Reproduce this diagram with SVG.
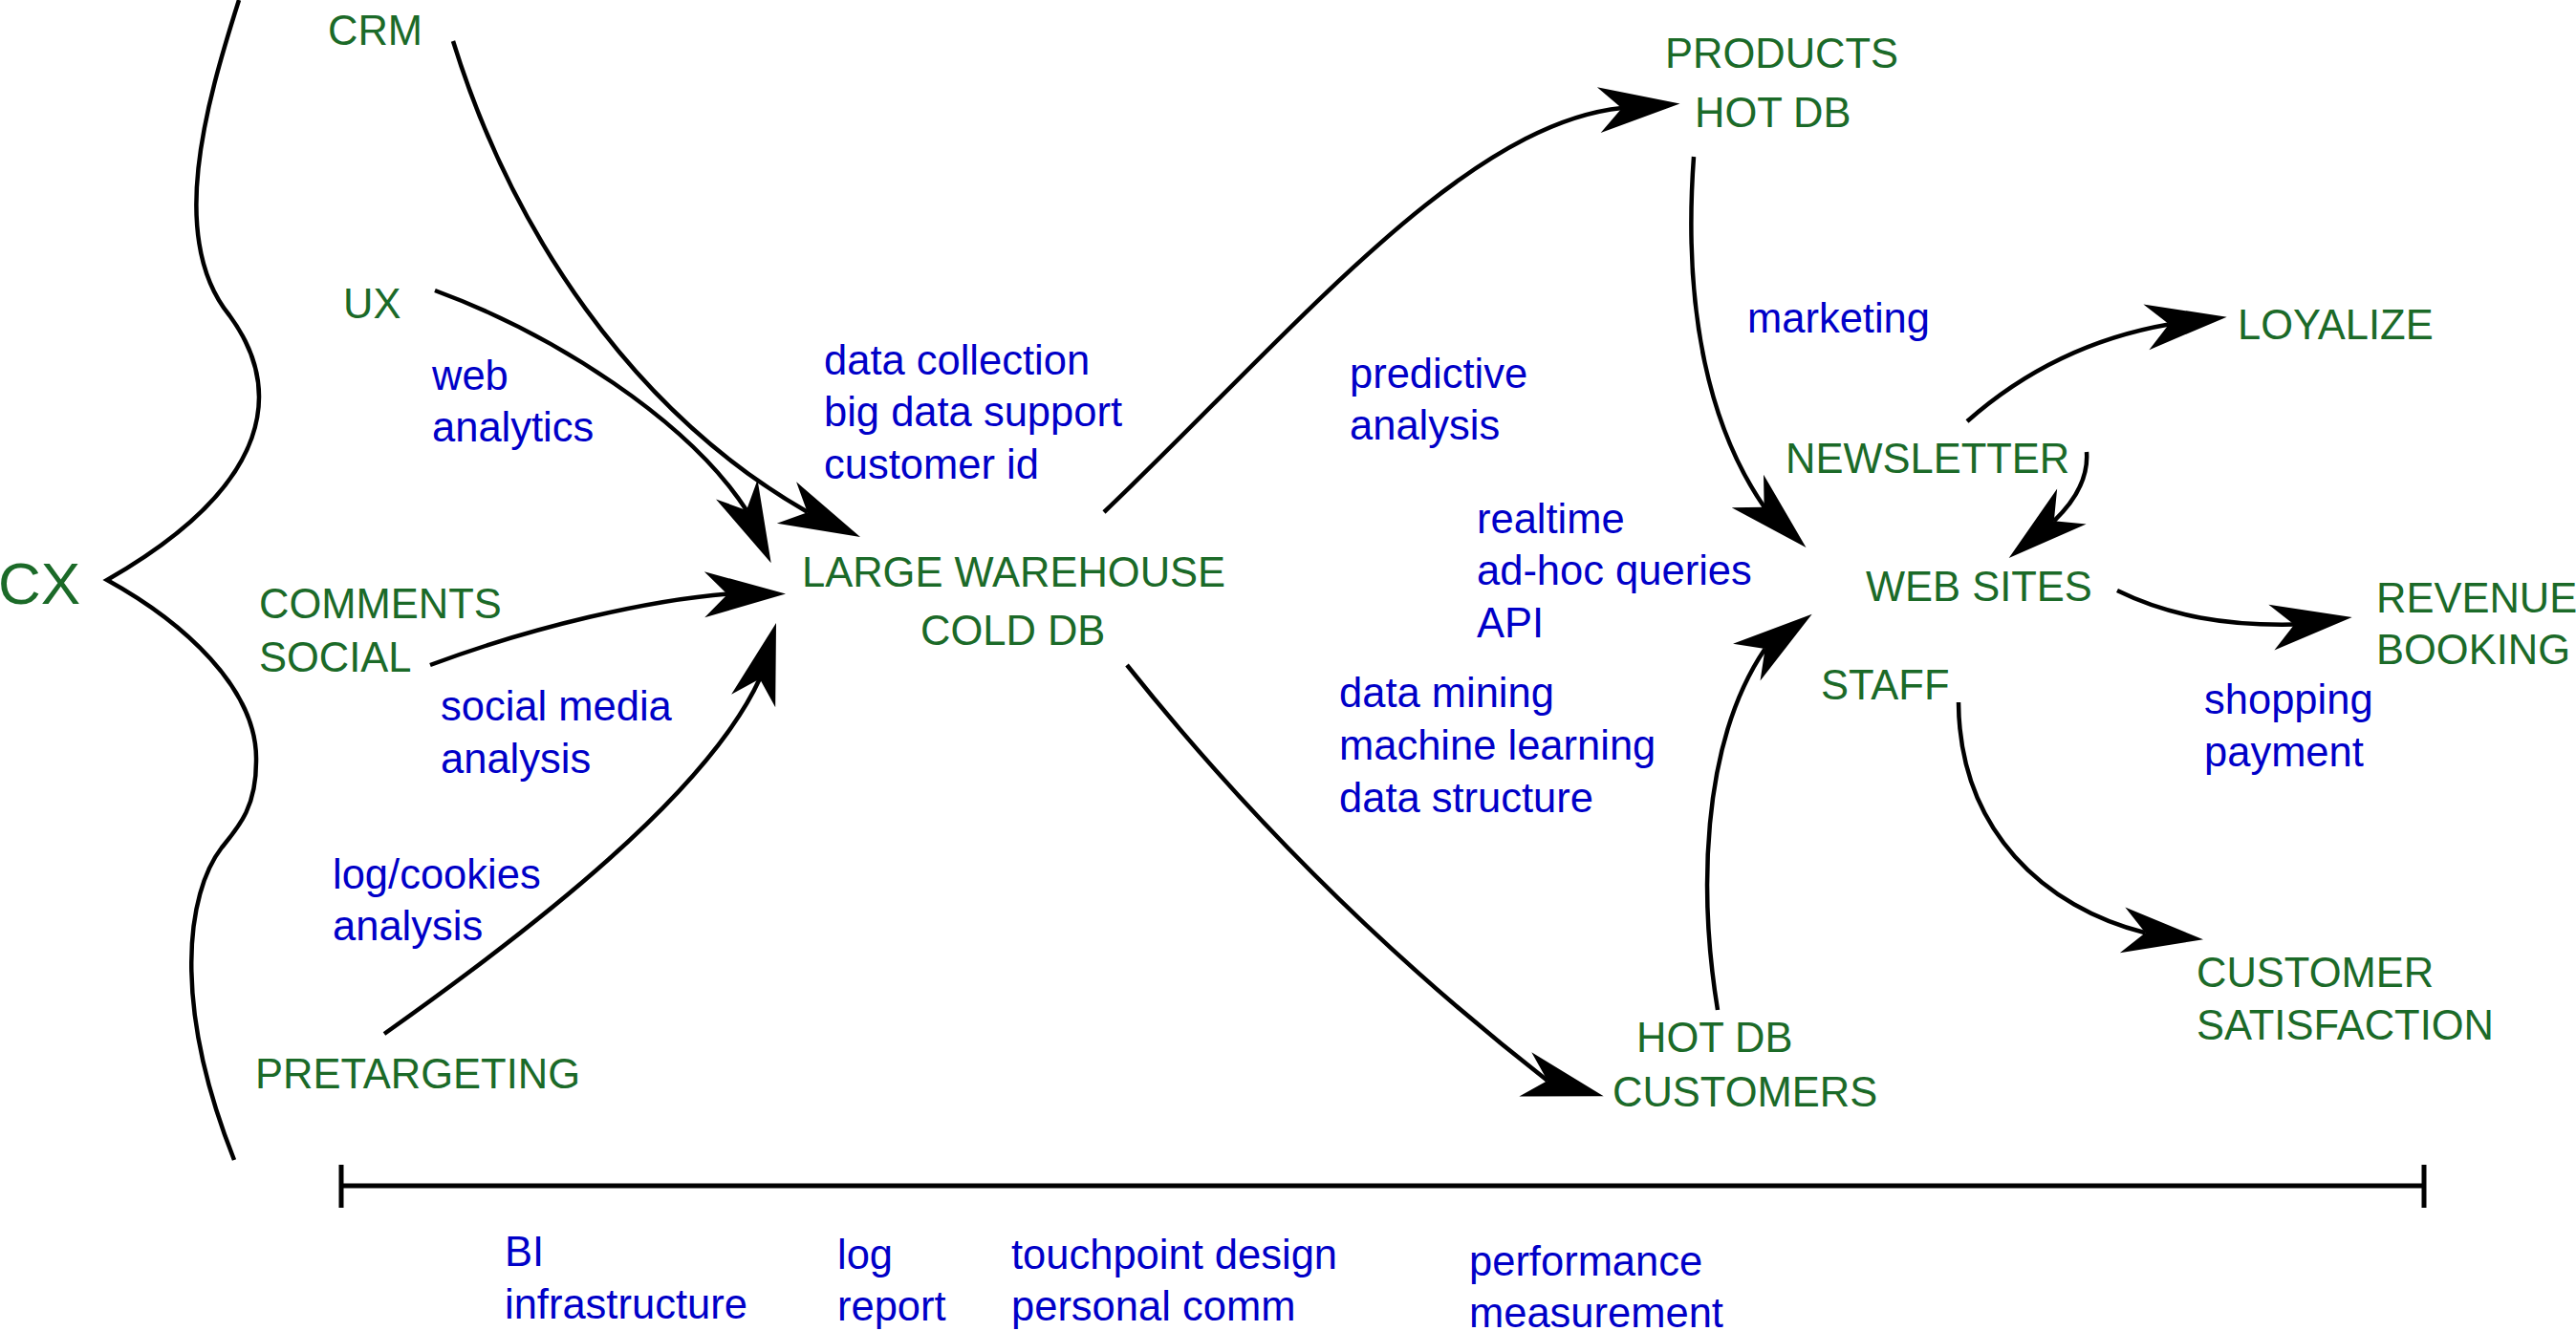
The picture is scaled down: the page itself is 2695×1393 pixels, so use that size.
<svg xmlns="http://www.w3.org/2000/svg" xmlns:xlink="http://www.w3.org/1999/xlink" width="2695" height="1393" viewBox="0 0 2695 1393">
<style>
text{font-family:"Liberation Sans",Arial,sans-serif;font-size:43.5px}
.g{fill:#1b6a28}
.b{fill:#0000c8}
.ln{fill:none;stroke:#000;stroke-width:4.5}
.ah{fill:#000}
</style>
<defs>
<path id="ah" class="ah" d="M0,0 L-85,-24 L-61,0 L-85,24 Z"/>
</defs>
<rect width="2695" height="1393" fill="#fff"/>

<g id="cx">
<path class="ln" d="M250,0 C215,110 175,250 240,330 C295,405 290,505 112,607 C190,650 270,720 268,797 C268,845 250,865 232,887 C195,935 180,1050 245,1214"/>
<text class="g" x="-2" y="632" style="font-size:62px">CX</text>
</g>

<g id="crm"><text class="g" x="343" y="47">CRM</text></g>
<g id="ux"><text class="g" x="359" y="333">UX</text></g>
<g id="comments-social"><text class="g" x="271" y="647">COMMENTS</text><text class="g" x="271" y="703">SOCIAL</text></g>
<g id="pretargeting"><text class="g" x="267" y="1139">PRETARGETING</text></g>
<g id="warehouse"><text class="g" x="839" y="614">LARGE WAREHOUSE</text><text class="g" x="963" y="675">COLD DB</text></g>
<g id="products"><text class="g" x="1742" y="71">PRODUCTS</text><text class="g" x="1773" y="133">HOT DB</text></g>
<g id="customers"><text class="g" x="1712" y="1101">HOT DB</text><text class="g" x="1687" y="1158">CUSTOMERS</text></g>
<g id="newsletter"><text class="g" x="1868" y="495">NEWSLETTER</text></g>
<g id="websites"><text class="g" x="1952" y="629">WEB SITES</text></g>
<g id="staff"><text class="g" x="1905" y="732">STAFF</text></g>
<g id="loyalize"><text class="g" x="2341" y="355">LOYALIZE</text></g>
<g id="revenue"><text class="g" x="2486" y="641">REVENUE</text><text class="g" x="2486" y="695">BOOKING</text></g>
<g id="satisfaction"><text class="g" x="2298" y="1033">CUSTOMER</text><text class="g" x="2298" y="1088">SATISFACTION</text></g>

<g id="labels">
<text class="b" x="452" y="408">web</text>
<text class="b" x="452" y="462">analytics</text>
<text class="b" x="862" y="392">data collection</text>
<text class="b" x="862" y="446">big data support</text>
<text class="b" x="862" y="501">customer id</text>
<text class="b" x="1412" y="406">predictive</text>
<text class="b" x="1412" y="460">analysis</text>
<text class="b" x="1828" y="348">marketing</text>
<text class="b" x="1545" y="558">realtime</text>
<text class="b" x="1545" y="612">ad-hoc queries</text>
<text class="b" x="1545" y="667">API</text>
<text class="b" x="1401" y="740">data mining</text>
<text class="b" x="1401" y="795">machine learning</text>
<text class="b" x="1401" y="850">data structure</text>
<text class="b" x="461" y="754">social media</text>
<text class="b" x="461" y="809">analysis</text>
<text class="b" x="348" y="930">log/cookies</text>
<text class="b" x="348" y="984">analysis</text>
<text class="b" x="2306" y="747">shopping</text>
<text class="b" x="2306" y="802">payment</text>
</g>

<g id="timeline">
<path d="M357,1241 H2536 M357,1219 V1264 M2536,1219 V1264" fill="none" stroke="#000" stroke-width="5"/>
<text class="b" x="528" y="1325">BI</text>
<text class="b" x="528" y="1380">infrastructure</text>
<text class="b" x="876" y="1328">log</text>
<text class="b" x="876" y="1382">report</text>
<text class="b" x="1058" y="1328">touchpoint design</text>
<text class="b" x="1058" y="1382">personal comm</text>
<text class="b" x="1537" y="1335">performance</text>
<text class="b" x="1537" y="1389">measurement</text>
</g>

<g id="connectors">
<path class="ln" d="M474,43 C535,240 660,430 845,536"/>
<use xlink:href="#ah" transform="translate(900,562) rotate(25)"/>
<path class="ln" d="M455,304 C580,350 720,440 781,534"/>
<use xlink:href="#ah" transform="translate(806.7,589.3) rotate(65)"/>
<path class="ln" d="M450,696 C560,655 680,628 762,621.5"/>
<use xlink:href="#ah" transform="translate(822,621.5) rotate(-0.5)"/>
<path class="ln" d="M402,1082 C560,970 740,830 795,710"/>
<use xlink:href="#ah" transform="translate(812,652) rotate(-73.7)"/>
<path class="ln" d="M1155,536 C1350,350 1530,130 1697,113"/>
<use xlink:href="#ah" transform="translate(1757.5,108.5) rotate(-4.5)"/>
<path class="ln" d="M1179,696 C1308,858 1455,1003 1619,1131"/>
<use xlink:href="#ah" transform="translate(1677.7,1147.3) rotate(15.6)"/>
<path class="ln" d="M1772,164 C1760,330 1790,450 1846,531"/>
<use xlink:href="#ah" transform="translate(1889.5,573) rotate(44)"/>
<path class="ln" d="M2058,441 C2110,395 2180,355 2269,339.5"/>
<use xlink:href="#ah" transform="translate(2329.7,331.7) rotate(-7.2)"/>
<path class="ln" d="M2183,473 C2185,500 2170,525 2148.8,545.3"/>
<use xlink:href="#ah" transform="translate(2101.7,584) rotate(140.6)"/>
<path class="ln" d="M2215,618 C2270,645 2330,655 2400,653.6"/>
<use xlink:href="#ah" transform="translate(2460.7,646) rotate(-7.2)"/>
<path class="ln" d="M2049,735 C2050,870 2140,950 2244.4,976.2"/>
<use xlink:href="#ah" transform="translate(2305,983.2) rotate(6.6)"/>
<path class="ln" d="M1797,1057 C1778,940 1778,780 1846.6,678.9"/>
<use xlink:href="#ah" transform="translate(1895.7,642.7) rotate(-36.4)"/>
</g>
</svg>
